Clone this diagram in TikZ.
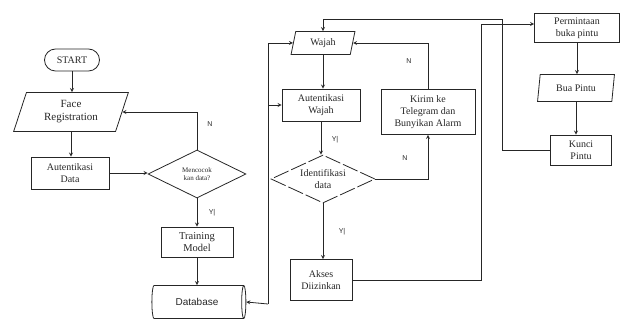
\documentclass[tikz,border=0pt]{standalone}
\usepackage{fontspec}
\setmainfont{Liberation Serif}
\setsansfont{Liberation Sans}
\usetikzlibrary{shapes.geometric}

\begin{document}
\begin{tikzpicture}[x=1pt, y=-1pt, line width=0.8pt, color=black!85, >=stealth,
font=\fontsize{10}{12}\selectfont,
Box/.style={draw, align=center, inner sep=1pt},
Miring/.style={draw, trapezium, trapezium left angle=72, trapezium right angle=108, trapezium stretches=true, align=center, inner sep=1pt},
Keputusan/.style={draw, diamond, aspect=2, inner sep=0pt, align=center},
Huruf/.style={font=\fontsize{7}{8}\sffamily}]
\useasboundingbox (0,0) rectangle (621,320);
% kolom kiri: registrasi
\node [Box, rounded corners=11pt, minimum width=55pt, minimum height=22pt] (start) at (72,60) {START};
\node [Miring, minimum width=115pt, minimum height=39pt, font=\fontsize{11}{13}\selectfont] (face) at (71,112) {Face\\Registration};
\node [Box, minimum width=78pt, minimum height=32pt] (authdata) at (70,173) {Autentikasi\\Data};
\node [Keputusan, minimum width=98pt, minimum height=48pt, font=\fontsize{7}{8}\selectfont] (cocok) at (197,174) {Mencocok\\kan data?};
\node [Box, minimum width=72pt, minimum height=30pt, font=\fontsize{10.5}{12.5}\selectfont] (training) at (197,242) {Training\\Model};
\node [draw, cylinder, shape aspect=0.3, minimum height=94pt, minimum width=33pt, font=\fontsize{10}{12}\sffamily] (db) at (197,302) {Database};
% kolom tengah: pengenalan wajah
\node [Miring, trapezium left angle=78, trapezium right angle=102, minimum width=64pt, minimum height=23pt] (wajah) at (323,43) {Wajah};
\node [Box, minimum width=78pt, minimum height=32pt] (authwajah) at (321,105) {Autentikasi\\Wajah};
\node [Box, minimum width=94pt, minimum height=45pt] (kirim) at (428,112) {Kirim ke\\Telegram dan\\Bunyikan Alarm};
\node [Keputusan, dash pattern=on 16pt off 3pt, minimum width=104pt, minimum height=48pt] (ident) at (323,179) {Identifikasi\\data};
\node [Box, minimum width=62pt, minimum height=41pt] (akses) at (321,280) {Akses\\Diizinkan};
% kolom kanan: pintu
\node [Box, minimum width=85pt, minimum height=29pt] (perm) at (577,28) {Permintaan\\buka pintu};
\node [Miring, trapezium left angle=80, trapezium right angle=100, minimum width=77pt, minimum height=27pt] (bua) at (576,88) {Bua Pintu};
\node [Box, minimum width=61pt, minimum height=30pt] (kunci) at (581,150) {Kunci\\Pintu};
% panah lurus ke bawah
\foreach \a/\b in {start/face, face/authdata, cocok/training, training/db, wajah/authwajah, authwajah/ident, ident/akses, perm/bua, bua/kunci}
  \draw [->] (\a.south) -- (\a.south |- \b.north);
\draw [->] (authdata.east) -- (authdata.east -| cocok.west);
\draw [->] (cocok.north) |- (face.east);
\coordinate (bus) at (268,304);
\draw [->] (bus) -- (db.east);
\draw [->] (bus) |- (wajah.west);
\draw [->] (bus |- authwajah.west) -- (authwajah.west);
\draw [->] (ident.east) -| (kirim.south);
\draw [->] (kirim.north) |- (wajah.east);
\coordinate (naik) at (481,0);
\draw [->] (akses.east) -| (naik |- 0,24) -- (perm.west |- 0,24);
\coordinate (atas) at (502,19);
\draw (kunci.west) -| (atas);
\draw [->] (atas) -| (wajah.north);
% label cabang
\node [Huruf] (nCocok) at (210,124) {N};
\node [Huruf] (yCocok) at (212,213) {Y|};
\node [Huruf] (nKirim) at (409,61) {N};
\node [Huruf] (nIdent) at (405,158) {N};
\node [Huruf] (yAuth) at (335,140) {Y|};
\node [Huruf] (yIdent) at (342,232) {Y|};
\end{tikzpicture}
\end{document}
